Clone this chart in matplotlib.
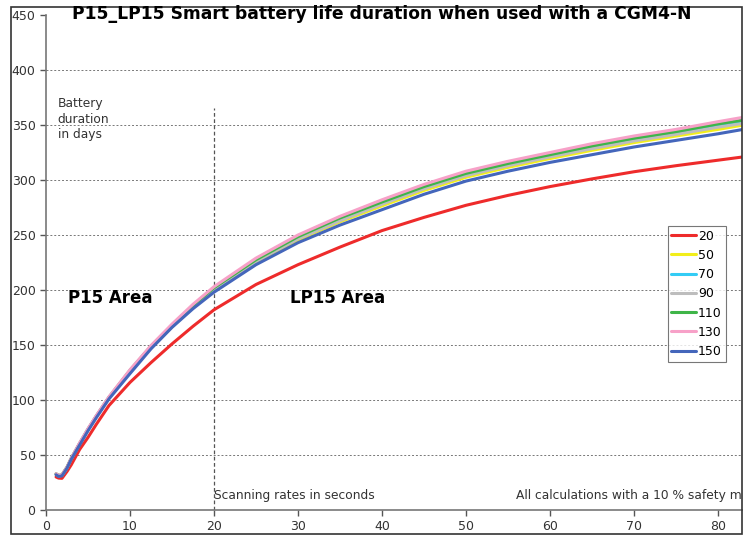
import matplotlib.pyplot as plt
from matplotlib.patches import Rectangle

# scanning rate (s) vs battery duration (days), one series per legend value
rates = [1.2, 1.5, 1.9, 2.5, 3, 4, 5, 6, 7.5, 10, 12.5, 15, 17.5, 20,
         25, 30, 35, 40, 45, 50, 55, 60, 65, 70, 75, 80, 83]

d20 = [30, 29, 28.8, 35, 41, 55, 66, 78, 95, 116, 134, 151, 167, 182,
       205, 223, 239, 254, 266, 277, 286, 294, 301, 307.5, 313, 318, 321]
d50 = [32.5, 31, 31.5, 38.5, 46.5, 60, 73, 85, 102, 126, 147.5, 166.5, 184.5, 200,
       225, 245.5, 262, 276.5, 290.5, 302.5, 311.5, 319.5, 327, 334, 340, 346, 350]
d70 = [32.5, 31, 31.5, 38.5, 46.5, 60.5, 73.5, 85.5, 102.5, 126.5, 148.5, 167.5, 185.5, 201,
       226.5, 247.5, 264, 279, 293, 305, 314, 322, 330, 337, 343, 349.5, 353]
d90 = [32.5, 31, 31.5, 38.5, 46.5, 60, 73, 85, 102, 126, 148, 167, 185, 200.5,
       226, 246.5, 263, 278, 292, 304, 313, 321, 328.5, 335.5, 341.5, 348, 351.5]
d110 = [33, 31.5, 32, 39, 47, 60.5, 73.5, 85.5, 102.5, 127, 149, 168, 186, 202,
        227.5, 248.5, 265.5, 280, 294, 306, 315, 323, 331, 338, 344, 351, 354.5]
d130 = [33, 31.5, 32, 39, 47, 61, 74, 86, 103, 127.5, 149.5, 169, 187, 203,
        229, 250, 267, 282, 296, 308, 317, 325, 333, 340, 346, 353, 357]
d150 = [32, 30.5, 31, 38, 46, 59, 72, 84, 101, 124, 146.5, 166, 183, 198,
        223, 243, 259, 273, 287, 299, 308, 316, 323, 330, 336, 342, 346]

labels = ['20', '50', '70', '90', '110', '130', '150']
series = [d20, d50, d70, d90, d110, d130, d150]
colors = ['#ee2b2b', '#f2ee1a', '#33ccf5', '#bdbdbd', '#3fb548', '#f7a1c8', '#4466bb']

title = 'P15_LP15 Smart battery life duration when used with a CGM4-N'

plt.rcParams.update({
    'font.family': 'DejaVu Sans',
    'xtick.color': '#555555',
    'ytick.color': '#555555',
    'xtick.labelcolor': '#333333',
    'ytick.labelcolor': '#333333',
})

fig = plt.figure(figsize=(7.51, 5.36), dpi=100)
W, H = 751, 536
ax = fig.add_axes([46 / W, (H - 510) / H, (742 - 46) / W, (510 - 15) / H])

for ys, lab, c in zip(series, labels, colors):
    ax.plot(rates, ys, color=c, linewidth=2.2, label=lab,
            solid_capstyle='round', solid_joinstyle='round')

ax.set_xlim(0, 82.86)
ax.set_ylim(0, 450)
ax.set_xticks(range(0, 90, 10))
ax.set_yticks(range(0, 500, 50))
ax.tick_params(labelsize=9, length=4, width=1)

for y in range(50, 450, 50):
    ax.axhline(y, color='#777777', linestyle=(0, (2, 2)), linewidth=0.7, zorder=0)
ax.plot([20, 20], [0, 365], color='#555555', linestyle=(0, (3, 2)), linewidth=0.9, zorder=0)

for s in ['top', 'right']:
    ax.spines[s].set_visible(False)
for s in ['left', 'bottom']:
    ax.spines[s].set_color('#777777')
    ax.spines[s].set_linewidth(1.2)

ax.text(1.4, 355, 'Battery\nduration\nin days', fontsize=8.8, color='#333333',
        va='center', ha='left', linespacing=1.25)
ax.text(2.6, 193, 'P15 Area', fontsize=12, fontweight='bold', va='center')
ax.text(29.0, 193, 'LP15 Area', fontsize=12, fontweight='bold', va='center')
ax.text(20.0, 13, 'Scanning rates in seconds', fontsize=8.8, color='#333333', va='center')
# the reference runs this note past the plot edge, so it is clipped there too
ax.text(56.0, 13, 'All calculations with a 10 % safety margin', fontsize=8.8,
        color='#333333', va='center', clip_on=True)

leg = ax.legend(loc='upper left', bbox_to_anchor=(0.893, 0.574), fontsize=9,
                frameon=True, fancybox=False, handlelength=2.0, handletextpad=0.15,
                borderpad=0.3, labelspacing=0.5, borderaxespad=0)
leg.get_frame().set_edgecolor('#555555')
leg.get_frame().set_linewidth(0.8)

fig.text(382 / W, 1 - 14 / H, title, fontsize=12.3, fontweight='bold',
         ha='center', va='center')

fig.patches.append(Rectangle((11 / W, 1 - 534 / H), (742 - 11) / W, (534 - 7) / H,
                             transform=fig.transFigure, fill=False,
                             edgecolor='#333333', linewidth=1.2))

fig.savefig('out.png', dpi=100)
